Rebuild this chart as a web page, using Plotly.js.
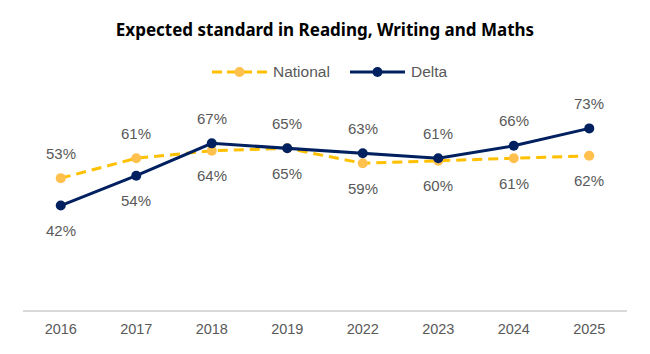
<!DOCTYPE html>
<html>
<head>
<meta charset="utf-8">
<script src="https://cdn.plot.ly/plotly-3.0.1.min.js"></script>
<style>html,body{margin:0;padding:0;background:#fff}#chart{width:650px;height:354px}</style>
</head>
<body>
<div id="chart"></div>
<script>
const years = ['2016','2017','2018','2019','2022','2023','2024','2025'];
const national = [53, 61, 64, 65, 59, 60, 61, 62];
const delta = [42, 54, 67, 65, 63, 61, 66, 73];
const seriesNames = ['National', 'Delta'];
// label side per point: 1 = above, -1 = below
const nationalSide = [1, 1, -1, -1, -1, -1, -1, -1];
const deltaSide = [-1, -1, 1, 1, 1, 1, 1, 1];

const gray = '#595959';
const yellow = '#FFC000', yellowMarker = '#FFC04D', navy = '#002060';
const sans = 'Liberation Sans, Arial, sans-serif';
const labelFont = {family: sans, size: 15, color: gray};

const traces = [
  {
    x: years, y: national, name: seriesNames[0], type: 'scatter', mode: 'lines+markers',
    line: {color: yellow, width: 3, dash: '10px,6px'},
    marker: {color: yellowMarker, size: 10},
    hoverinfo: 'skip', showlegend: false
  },
  {
    x: years, y: delta, name: seriesNames[1], type: 'scatter', mode: 'lines+markers',
    line: {color: navy, width: 3},
    marker: {color: navy, size: 10},
    hoverinfo: 'skip', showlegend: false
  }
];

const annotations = [];
function addLabels(vals, sides) {
  vals.forEach((v, i) => {
    annotations.push({
      x: i, y: v, xref: 'x', yref: 'y', text: v + '%', showarrow: false,
      font: labelFont, yshift: sides[i] * 25, xanchor: 'center', yanchor: 'middle'
    });
  });
}
addLabels(national, nationalSide);
addLabels(delta, deltaSide);

// Custom legend (Excel style, long symbol lines)
const M = {l: 23, r: 23, t: 111, b: 44};
const W = 650, H = 354;
const pw = W - M.l - M.r, ph = H - M.t - M.b;
const px2x = p => (p - M.l) / pw;
const py2y = p => 1 + (M.t - p) / ph;
const legY = py2y(72);
const legendItems = [
  {name: seriesNames[0], start: 212, color: yellow, mcolor: yellowMarker, dash: '10px,5px'},
  {name: seriesNames[1], start: 350, color: navy, mcolor: navy, dash: 'solid'}
];
const shapes = [];
legendItems.forEach(it => {
  shapes.push({type: 'line', xref: 'paper', yref: 'paper',
    x0: px2x(it.start), x1: px2x(it.start + 55), y0: legY, y1: legY,
    line: {color: it.color, width: 3, dash: it.dash}});
  shapes.push({type: 'circle', xref: 'paper', yref: 'paper',
    xsizemode: 'pixel', ysizemode: 'pixel',
    xanchor: px2x(it.start + 27.5), yanchor: legY,
    x0: -5, x1: 5, y0: -5, y1: 5,
    fillcolor: it.mcolor, line: {width: 0}});
  annotations.push({xref: 'paper', yref: 'paper', x: px2x(it.start + 59), y: legY,
    xanchor: 'left', yanchor: 'middle', showarrow: false, text: it.name,
    font: {family: sans, size: 15.5, color: gray}});
});

const layout = {
  width: W, height: H,
  margin: M,
  paper_bgcolor: '#fff', plot_bgcolor: '#fff',
  title: {
    text: '<b>Expected standard in Reading, Writing and Maths</b>',
    font: {family: 'Noto Sans, sans-serif', size: 17, color: '#000'},
    x: 0.5, xanchor: 'center', y: 1 - 30/354, yanchor: 'middle', yref: 'container'
  },
  showlegend: false,
  xaxis: {
    type: 'category', categoryorder: 'array', categoryarray: years,
    range: [-0.5, years.length - 0.5], autorange: false,
    showgrid: false, zeroline: false,
    showline: true, linecolor: '#D9D9D9', linewidth: 1.5,
    ticks: '', ticklabelstandoff: 5,
    tickfont: {family: sans, size: 14.5, color: gray},
    fixedrange: true
  },
  yaxis: {
    range: [0, 80], autorange: false, visible: false, showgrid: false, zeroline: false, fixedrange: true
  },
  shapes: shapes,
  annotations: annotations
};

Plotly.newPlot('chart', traces, layout, {displayModeBar: false, staticPlot: true});
</script>
</body>
</html>
